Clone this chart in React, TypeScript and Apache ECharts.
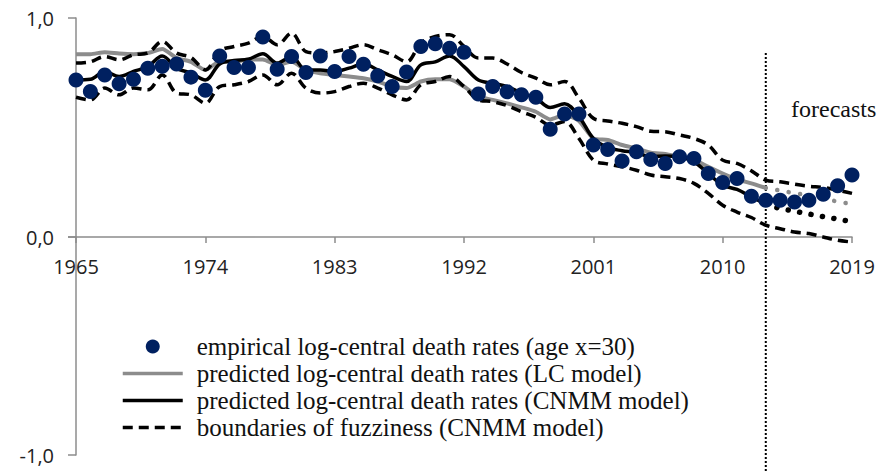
import React, { useEffect, useRef } from "react";
import * as echarts from "echarts";

const years: string[] = Array.from({ length: 55 }, (_, i) => String(1965 + i));

// empirical log-central death rates (age x=30), 1965-2019
const empirical = [
  0.717, 0.664, 0.74, 0.7, 0.72, 0.77, 0.78, 0.79, 0.73, 0.67,
  0.826, 0.774, 0.774, 0.913, 0.766, 0.824, 0.751, 0.827, 0.756, 0.824,
  0.789, 0.736, 0.687, 0.753, 0.87, 0.882, 0.862, 0.844, 0.653, 0.687,
  0.663, 0.649, 0.638, 0.492, 0.562, 0.562, 0.42, 0.4, 0.347, 0.389,
  0.354, 0.336, 0.366, 0.359, 0.29, 0.249, 0.267, 0.186, 0.168, 0.168,
  0.16, 0.168, 0.195, 0.234, 0.283,
];

// LC model fitted values, 1965-2013
const lcFit = [
  0.835, 0.835, 0.844, 0.838, 0.835, 0.84, 0.858, 0.817, 0.8, 0.763,
  0.8, 0.8, 0.81, 0.81, 0.786, 0.8, 0.763, 0.748, 0.74, 0.733,
  0.725, 0.71, 0.687, 0.68, 0.71, 0.72, 0.72, 0.687, 0.641, 0.626,
  0.61, 0.592, 0.572, 0.537, 0.557, 0.53, 0.45, 0.443, 0.42, 0.405,
  0.385, 0.379, 0.366, 0.354, 0.32, 0.29, 0.263, 0.245, 0.224,
];
// LC model forecasts, 2013-2019
const lcForecast = [0.224, 0.212, 0.2, 0.19, 0.175, 0.162, 0.15];

// CNMM model fitted values, 1965-2013
const cnmmFit = [
  0.717, 0.72, 0.756, 0.733, 0.756, 0.778, 0.827, 0.771, 0.748, 0.717,
  0.79, 0.806, 0.812, 0.837, 0.794, 0.824, 0.763, 0.763, 0.756, 0.771,
  0.79, 0.763, 0.733, 0.71, 0.786, 0.8, 0.827, 0.778, 0.717, 0.702,
  0.687, 0.657, 0.634, 0.591, 0.608, 0.55, 0.45, 0.409, 0.394, 0.385,
  0.367, 0.37, 0.366, 0.343, 0.29, 0.237, 0.217, 0.183, 0.15,
];
// CNMM model forecasts, 2013-2019
const cnmmForecast = [0.15, 0.13, 0.118, 0.105, 0.093, 0.082, 0.07];

// boundaries of fuzziness (CNMM), 1965-2019
const upperBound = [
  0.794, 0.8, 0.824, 0.809, 0.832, 0.84, 0.893, 0.84, 0.82, 0.763,
  0.85, 0.87, 0.885, 0.916, 0.878, 0.931, 0.847, 0.84, 0.847, 0.862,
  0.878, 0.855, 0.832, 0.8, 0.885, 0.916, 0.924, 0.87, 0.817, 0.817,
  0.79, 0.751, 0.725, 0.695, 0.71, 0.634, 0.542, 0.53, 0.519, 0.504,
  0.483, 0.481, 0.466, 0.45, 0.42, 0.351, 0.336, 0.302, 0.26, 0.252,
  0.241, 0.232, 0.226, 0.214, 0.199,
];
const lowerBound = [
  0.638, 0.626, 0.68, 0.649, 0.68, 0.672, 0.74, 0.657, 0.649, 0.611,
  0.687, 0.695, 0.71, 0.74, 0.695, 0.748, 0.68, 0.657, 0.664, 0.687,
  0.702, 0.68, 0.649, 0.626, 0.695, 0.71, 0.733, 0.687, 0.626, 0.618,
  0.6, 0.572, 0.547, 0.511, 0.527, 0.45, 0.351, 0.333, 0.321, 0.305,
  0.283, 0.275, 0.267, 0.245, 0.199, 0.145, 0.114, 0.089, 0.054, 0.038,
  0.023, 0.016, 0.0, -0.015, -0.023,
];

const forecastStart = "2013";
// vertical separator of the forecast period: [year, top value, bottom value]
const separator = [[forecastStart, 0.84, -1.07]];
const yTicksUpper = [0, 1];
const yTicksLower = [-1, 0];

const names = [
  "empirical log-central death rates (age x=30)",
  "predicted log-central death rates (LC model)",
  "predicted log-central death rates (CNMM model)",
  "boundaries of fuzziness (CNMM model)",
];

export default function App() {
  const ref = useRef<HTMLDivElement>(null);

  useEffect(() => {
    document.body.style.margin = "0";
    if (!ref.current) return;
    const chart = echarts.init(ref.current, undefined, { renderer: "svg" });
    const startIdx = years.indexOf(forecastStart);
    const pad = (arr: number[]) => [...Array(startIdx).fill("-"), ...arr];
    const axisFont = '"Liberation Sans Narrow", "Open Sans", sans-serif';
    const serif = '"Liberation Serif", "Times New Roman", serif';
    const fmt = (v: number) => v.toFixed(1).replace(".", ",");
    const gray = "#8c8c8c";

    chart.setOption({
      animation: false,
      backgroundColor: "#ffffff",
      grid: [
        { left: 76, right: 27, top: 18, height: 219, containLabel: false, outerBoundsMode: "none" },
        { left: 76, right: 27, top: 237, height: 218, containLabel: false, outerBoundsMode: "none" },
      ],
      legend: {
        data: names.map((n, i) =>
          i === 0 ? { name: n } : { name: n, itemStyle: { opacity: 0 } }
        ),
        orient: "vertical",
        left: 116,
        top: 329,
        itemWidth: 60,
        itemHeight: 14,
        itemGap: 2,
        lineStyle: { width: 3.5 },
        textStyle: {
          fontFamily: serif,
          fontSize: 25,
          lineHeight: 24,
          color: "#111",
          padding: [0, 0, 0, 9],
        },
      },
      xAxis: [
        {
          type: "category",
          gridIndex: 0,
          data: years,
          boundaryGap: false,
          axisLine: { onZero: false, lineStyle: { color: gray, width: 1.5 } },
          axisTick: { interval: 8, length: 6, lineStyle: { color: gray, width: 1.5 } },
          axisLabel: {
            interval: 8,
            margin: 19,
            fontFamily: axisFont,
            fontSize: 20,
            color: "#222",
          },
          splitLine: { show: false },
        },
        {
          type: "category",
          gridIndex: 1,
          data: years,
          boundaryGap: false,
          show: false,
        },
      ],
      yAxis: [
        {
          type: "value",
          gridIndex: 0,
          min: yTicksUpper[0],
          max: yTicksUpper[1],
          interval: 1,
          axisLine: { show: true, onZero: false, lineStyle: { color: gray, width: 1.5 } },
          axisTick: { show: true, length: 8, lineStyle: { color: gray, width: 1.5 } },
          axisLabel: { margin: 22, fontFamily: axisFont, fontSize: 20, color: "#222", formatter: fmt },
          splitLine: { show: false },
        },
        {
          type: "value",
          gridIndex: 1,
          min: yTicksLower[0],
          max: yTicksLower[1],
          interval: 1,
          axisLine: { show: true, onZero: false, lineStyle: { color: gray, width: 1.5 } },
          axisTick: { show: true, length: 8, lineStyle: { color: gray, width: 1.5 } },
          axisLabel: {
            margin: 22,
            fontFamily: axisFont,
            fontSize: 20,
            color: "#222",
            formatter: (v: number) => (v === 0 ? "" : fmt(v)),
          },
          splitLine: { show: false },
        },
      ],
      graphic: [
        {
          type: "text",
          left: 791,
          top: 97,
          style: { text: "forecasts", font: `24px ${serif}`, fill: "#111" },
        },
      ],
      series: [
        {
          name: names[1],
          type: "line",
          data: lcFit,
          symbol: "none",
          smooth: 0.2,
          clip: false,
          z: 2,
          lineStyle: { color: gray, width: 4 },
          itemStyle: { color: gray },
        },
        {
          name: "LC forecast",
          type: "line",
          data: pad(lcForecast),
          symbol: "none",
          clip: false,
          z: 2,
          lineStyle: { color: gray, width: 4.5, type: [0.1, 11.5], cap: "round" },
        },
        {
          name: "forecast separator",
          type: "custom",
          clip: false,
          silent: true,
          z: 1,
          data: separator,
          renderItem: (_params: any, api: any) => {
            const x = api.value(0);
            const p1 = api.coord([x, api.value(1)]);
            const p2 = api.coord([x, api.value(2)]);
            return {
              type: "line",
              shape: { x1: p1[0], y1: p1[1], x2: p2[0], y2: p2[1] },
              style: { stroke: "#000", lineWidth: 2, lineDash: [2, 2] },
            };
          },
        },
        {
          name: names[3],
          type: "line",
          data: upperBound,
          symbol: "none",
          smooth: 0.35,
          clip: false,
          z: 3,
          lineStyle: { color: "#000", width: 3.5, type: [10, 6] },
          itemStyle: { color: "#000" },
        },
        {
          name: names[3],
          type: "line",
          data: lowerBound,
          symbol: "none",
          smooth: 0.35,
          clip: false,
          z: 3,
          lineStyle: { color: "#000", width: 3.5, type: [10, 6] },
          itemStyle: { color: "#000" },
        },
        {
          name: names[2],
          type: "line",
          data: cnmmFit,
          symbol: "none",
          smooth: 0.35,
          clip: false,
          z: 4,
          lineStyle: { color: "#000", width: 3.5 },
          itemStyle: { color: "#000" },
        },
        {
          name: "CNMM forecast",
          type: "line",
          data: pad(cnmmForecast),
          symbol: "none",
          clip: false,
          z: 4,
          lineStyle: { color: "#000", width: 5.5, type: [0.1, 11.5], cap: "round" },
        },
        {
          name: names[0],
          type: "scatter",
          data: empirical,
          symbol: "circle",
          symbolSize: 15,
          clip: false,
          z: 5,
          itemStyle: { color: "#002060", opacity: 1 },
        },
      ],
    });
    return () => chart.dispose();
  }, []);

  return <div ref={ref} style={{ width: 879, height: 472 }} />;
}
